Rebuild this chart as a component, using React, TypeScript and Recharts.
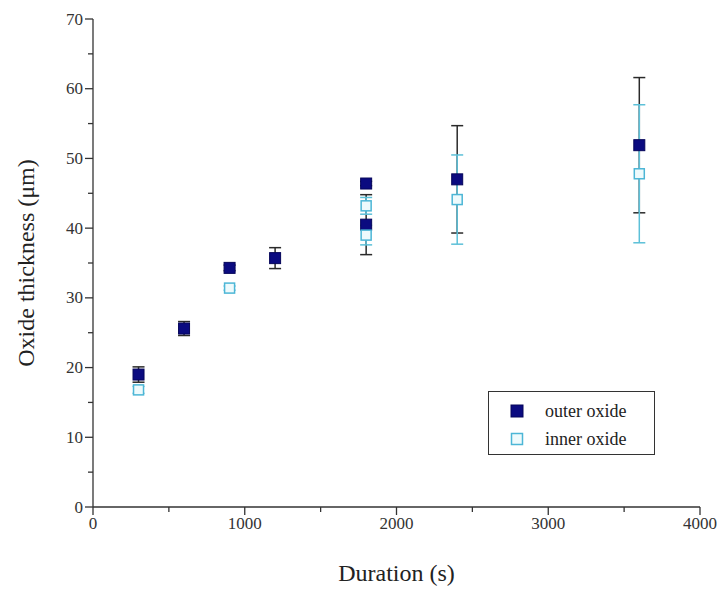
import { ScatterChart, Scatter, XAxis, YAxis, ErrorBar, Legend } from 'recharts';

const outerDuration = [300, 600, 900, 1200, 1800, 1800, 2400, 3600];
const outerThickness = [19.0, 25.6, 34.3, 35.7, 46.4, 40.5, 47.0, 51.9];
const outerError = [1.1, 1.0, 0.4, 1.5, 0.3, 4.3, 7.7, 9.7];

const innerDuration = [300, 900, 1800, 1800, 2400, 3600];
const innerThickness = [16.8, 31.4, 43.2, 39.0, 44.1, 47.8];
const innerError = [0.5, 0.3, 1.2, 1.4, 6.4, 9.9];

const xTicks = [0, 500, 1000, 1500, 2000, 2500, 3000, 3500, 4000];
const yTicks = [0, 5, 10, 15, 20, 25, 30, 35, 40, 45, 50, 55, 60, 65, 70];

const seriesNames = ['outer oxide', 'inner oxide'];

const outerData = outerDuration.map((d, i) => ({ d, t: outerThickness[i], e: outerError[i] }));
const innerData = innerDuration.map((d, i) => ({ d, t: innerThickness[i], e: innerError[i] }));

const FONT = '"Liberation Serif", "Times New Roman", serif';
const AXIS = '#333';
const OUTER_FILL = '#0b0b80';
const OUTER_STROKE = '#06065a';
const INNER_FILL = '#eefafc';
const INNER_STROKE = '#4cb6d6';

const OuterSquare = (props: any) => (
    <rect x={props.cx - 5.5} y={props.cy - 5.5} width={11} height={11} fill={OUTER_FILL} stroke={OUTER_STROKE} strokeWidth={1} />
);
const InnerSquare = (props: any) => (
    <rect x={props.cx - 5} y={props.cy - 5} width={10} height={10} fill={INNER_FILL} stroke={INNER_STROKE} strokeWidth={1.5} />
);

const YTick = (props: any) => {
    const { x, y, payload } = props;
    const major = payload.value % 10 === 0;
    return (
        <g>
            <line x1={x} y1={y} x2={x - (major ? 8 : 5)} y2={y} stroke={AXIS} strokeWidth={1.3} />
            {major && (
                <text x={x - 10} y={y} textAnchor="end" dominantBaseline="central" fontFamily={FONT} fontSize={17} fill="#333">
                    {payload.value}
                </text>
            )}
        </g>
    );
};

const XTick = (props: any) => {
    const { x, y, payload } = props;
    const major = payload.value % 1000 === 0;
    return (
        <g>
            <line x1={x} y1={y} x2={x} y2={y + (major ? 8 : 5)} stroke={AXIS} strokeWidth={1.3} />
            {major && (
                <text x={x} y={y + 16} textAnchor="middle" dominantBaseline="central" fontFamily={FONT} fontSize={17} fill="#333">
                    {payload.value}
                </text>
            )}
        </g>
    );
};

const LegendBox = () => (
    <div
        style={{
            width: 167,
            height: 64,
            border: '1.5px solid #333',
            background: '#fff',
            fontFamily: FONT,
            fontSize: 18,
            color: '#222',
            boxSizing: 'border-box',
            paddingTop: 7,
        }}
    >
        {seriesNames.map((name, i) => (
            <div key={name} style={{ display: 'flex', alignItems: 'center', height: 24, marginBottom: 4 }}>
                <svg width={56} height={24}>
                    {i === 0 ? (
                        <rect x={22} y={6} width={12} height={12} fill={OUTER_FILL} stroke={OUTER_STROKE} />
                    ) : (
                        <rect x={22.5} y={6.5} width={11} height={11} fill={INNER_FILL} stroke={INNER_STROKE} strokeWidth={1.5} />
                    )}
                </svg>
                <span>{name}</span>
            </div>
        ))}
    </div>
);

export default function App() {
    return (
        <div style={{ position: 'absolute', left: 0, top: 0, background: '#fff' }}>
            <ScatterChart width={723} height={590} margin={{ top: 19, right: 23, left: 0, bottom: 0 }}>
                <XAxis
                    type="number"
                    dataKey="d"
                    domain={[0, 4000]}
                    ticks={xTicks}
                    interval={0}
                    tickLine={false}
                    tickSize={0}
                    tickMargin={0}
                    tick={<XTick />}
                    height={83}
                    axisLine={{ stroke: AXIS, strokeWidth: 1.3 }}
                    label={{
                        content: (p: any) => (
                            <text
                                x={p.viewBox.x + p.viewBox.width / 2}
                                y={p.viewBox.y + 66}
                                textAnchor="middle"
                                dominantBaseline="central"
                                fontFamily={FONT}
                                fontSize={24}
                                fill="#222"
                            >
                                Duration (s)
                            </text>
                        ),
                    }}
                />
                <YAxis
                    type="number"
                    dataKey="t"
                    domain={[0, 70]}
                    ticks={yTicks}
                    interval={0}
                    tickLine={false}
                    tickSize={0}
                    tickMargin={0}
                    tick={<YTick />}
                    width={93}
                    axisLine={{ stroke: AXIS, strokeWidth: 1.3 }}
                    label={{
                        content: (p: any) => {
                            const cx = p.viewBox.x + 26;
                            const cy = p.viewBox.y + p.viewBox.height / 2;
                            return (
                                <text
                                    x={cx}
                                    y={cy}
                                    transform={`rotate(-90, ${cx}, ${cy})`}
                                    textAnchor="middle"
                                    dominantBaseline="central"
                                    fontFamily={FONT}
                                    fontSize={24}
                                    fill="#222"
                                >
                                    Oxide thickness (μm)
                                </text>
                            );
                        },
                    }}
                />
                <Legend
                    layout="vertical"
                    align="center"
                    verticalAlign="middle"
                    content={<LegendBox />}
                    wrapperStyle={{ left: 488, top: 391, width: 167 }}
                />
                <Scatter name={seriesNames[0]} data={outerData} shape={OuterSquare} isAnimationActive={false}>
                    <ErrorBar dataKey="e" direction="y" width={6} stroke="#2a2a2a" strokeWidth={1.5} isAnimationActive={false} />
                </Scatter>
                <Scatter name={seriesNames[1]} data={innerData} shape={InnerSquare} isAnimationActive={false}>
                    <ErrorBar dataKey="e" direction="y" width={6} stroke="#5cc0d8" strokeWidth={1.5} isAnimationActive={false} />
                </Scatter>
            </ScatterChart>
        </div>
    );
}
